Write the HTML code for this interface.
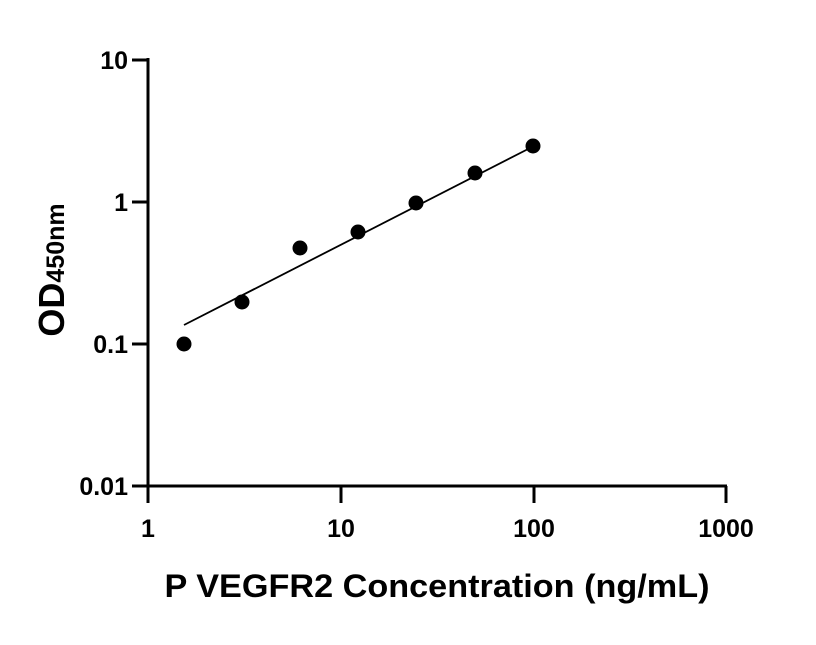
<!DOCTYPE html>
<html><head><style>body{margin:0;background:#fff}</style></head><body>
<svg width="816" height="640" xmlns="http://www.w3.org/2000/svg" font-family="Liberation Sans, sans-serif" font-weight="bold">
<rect width="816" height="640" fill="#fff"/>
<g stroke="#000" stroke-width="3" fill="none">
<line x1="148" y1="58" x2="148" y2="503"/>
<line x1="146.5" y1="486" x2="727" y2="486"/>
<line x1="132" y1="60" x2="148" y2="60"/>
<line x1="132" y1="202" x2="148" y2="202"/>
<line x1="132" y1="344" x2="148" y2="344"/>
<line x1="132" y1="486" x2="148" y2="486"/>
<line x1="341" y1="486" x2="341" y2="503"/>
<line x1="534" y1="486" x2="534" y2="503"/>
<line x1="726" y1="486" x2="726" y2="503"/>
</g>
<g font-size="25" text-anchor="end">
<text x="128" y="69">10</text>
<text x="128" y="211">1</text>
<text x="128" y="353">0.1</text>
<text x="128" y="495">0.01</text>
</g>
<g font-size="25" text-anchor="middle">
<text x="148" y="537">1</text>
<text x="341" y="537">10</text>
<text x="534" y="537">100</text>
<text x="726" y="537">1000</text>
</g>
<text x="437" y="597" font-size="32" text-anchor="middle" textLength="545" lengthAdjust="spacingAndGlyphs">P VEGFR2 Concentration (ng/mL)</text>
<text transform="translate(64,270) rotate(-90)" text-anchor="middle" font-size="36">OD<tspan font-size="25">450nm</tspan></text>
<line x1="184" y1="325" x2="534" y2="146" stroke="#000" stroke-width="1.8"/>
<g fill="#000">
<circle cx="184" cy="344" r="7.5"/>
<circle cx="242" cy="302" r="7.5"/>
<circle cx="300" cy="248" r="7.5"/>
<circle cx="358" cy="232" r="7.5"/>
<circle cx="416" cy="203" r="7.5"/>
<circle cx="475" cy="173" r="7.5"/>
<circle cx="533" cy="146" r="7.5"/>
</g>
</svg>
</body></html>
